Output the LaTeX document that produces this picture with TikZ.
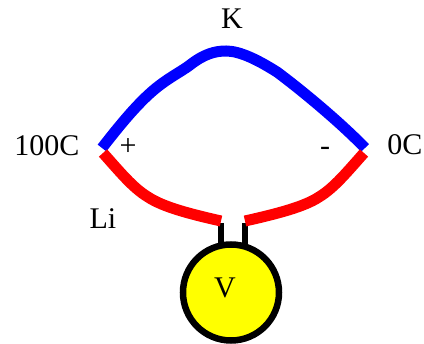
\documentclass[tikz,border=0pt]{standalone}
\usepackage{fontspec}
\setmainfont{Liberation Serif}
\definecolor{yel}{RGB}{255,255,0}
\definecolor{blu}{RGB}{0,0,255}
\definecolor{rd}{RGB}{255,0,0}
\tikzset{lab/.style={font=\fontsize{30}{30}\selectfont,inner sep=0pt,text=black},
wire/.style={line width=11pt,line cap=butt},
lead/.style={line width=6pt,black}}
\begin{document}
\begin{tikzpicture}[x=1pt,y=-1pt]
\useasboundingbox (0,0) rectangle (424,344);
\coordinate (hotb) at (102,148);
\coordinate (coldb) at (365,148);
\coordinate (hotr) at (103,153);
\coordinate (coldr) at (364,153);
\coordinate (la) at (221,221);
\coordinate (ra) at (245,221);
\coordinate (lb) at (221,246);
\coordinate (rb) at (245,246);
\node[circle,draw=black,line width=6.5pt,fill=yel,minimum size=96pt,inner sep=0pt] (v) at (231,292.5) {};
\node[lab] (vl) at (225,288) {V};
\draw[lead] (221,223) -- (lb);
\draw[lead] (245,223) -- (rb);
\draw[wire,blu] (hotb) .. controls (120,125) and (140,100) .. (160,85) .. controls (172,76) and (182,71) .. (190,65) .. controls (204,54) and (215,51) .. (226,51) .. controls (240,51) and (258,60) .. (277,72) .. controls (300,89) and (340,122) .. (coldb);
\draw[wire,rd] (hotr) .. controls (120,172) and (133,188) .. (148,197) .. controls (163,207) and (190,214) .. (la);
\draw[wire,rd] (coldr) .. controls (347,172) and (334,188) .. (319,197) .. controls (304,207) and (276,214) .. (ra);
\node[lab] (k) at (232,19) {K};
\node[lab] (hl) at (47,146) {100C};
\node[lab] (cl) at (405,145) {0C};
\node[lab] (li) at (103,219) {Li};
\node[lab] (p) at (128,147) {+};
\node[lab] (m) at (325,151) {-};
\end{tikzpicture}
\end{document}
